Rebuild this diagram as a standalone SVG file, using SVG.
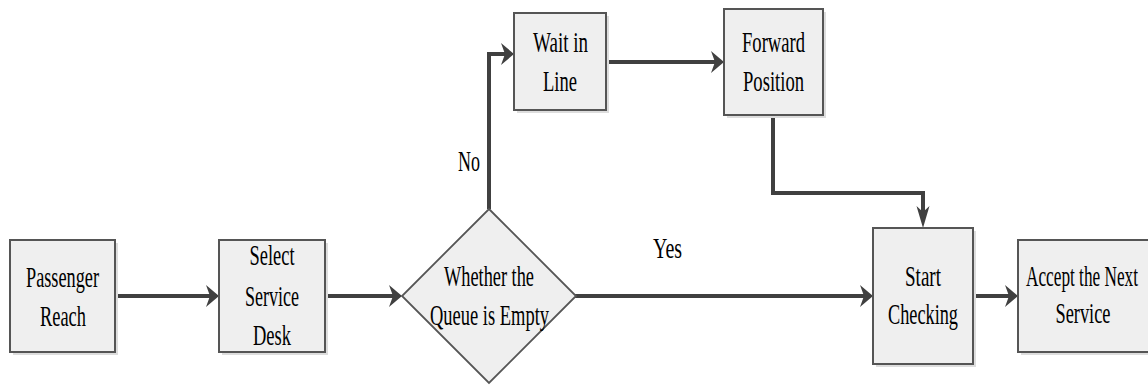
<svg xmlns="http://www.w3.org/2000/svg" width="1148" height="385" viewBox="0 0 1148 385">
  <defs>
    <style>
      .box { fill: #efefef; stroke: #555555; stroke-width: 2; }
      .shadow { fill: #dddddd; stroke: none; }
      .lbl { font-family: "Liberation Serif", "Times New Roman", "DejaVu Serif", serif; font-size: 29px; fill: #000000; text-anchor: middle; }
      .edge { fill: none; stroke: #404040; stroke-width: 4; stroke-linejoin: miter; }
    </style>
    <!-- arrowhead for horizontal runs: short and tall -->
    <marker id="ah" markerUnits="userSpaceOnUse" markerWidth="14" markerHeight="24" viewBox="0 0 14 24" refX="4" refY="12" orient="auto" overflow="visible">
      <path d="M0,1 L13,12 L0,23 L4,12 Z" fill="#404040"/>
    </marker>
    <!-- arrowhead for vertical runs: long and narrow -->
    <marker id="av" markerUnits="userSpaceOnUse" markerWidth="23" markerHeight="14" viewBox="0 0 23 14" refX="6" refY="7" orient="auto" overflow="visible">
      <path d="M0,0.5 L22,7 L0,13.5 L6,7 Z" fill="#404040"/>
    </marker>
  </defs>

  <g id="connectors">
    <path class="edge" d="M115,296 H210" marker-end="url(#ah)"/>
    <path class="edge" d="M325,296 H393" marker-end="url(#ah)"/>
    <path class="edge" d="M489,209 V54 H505" marker-end="url(#ah)"/>
    <path class="edge" d="M606,62 H715" marker-end="url(#ah)"/>
    <path class="edge" d="M773,115 V193 H923 V212" marker-end="url(#av)"/>
    <path class="edge" d="M575,296 H864" marker-end="url(#ah)"/>
    <path class="edge" d="M973,296 H1009" marker-end="url(#ah)"/>
  </g>

  <g id="passenger-reach">
    <rect class="shadow" x="13" y="243" width="105" height="112"/>
    <rect class="box" x="10" y="240" width="105" height="112"/>
    <text class="lbl" x="62.5" y="287" textLength="73" lengthAdjust="spacingAndGlyphs">Passenger</text>
    <text class="lbl" x="63" y="326" textLength="46" lengthAdjust="spacingAndGlyphs">Reach</text>
  </g>

  <g id="select-service-desk">
    <rect class="shadow" x="222" y="243" width="106" height="112"/>
    <rect class="box" x="219" y="240" width="106" height="112"/>
    <text class="lbl" x="272" y="265" textLength="45" lengthAdjust="spacingAndGlyphs">Select</text>
    <text class="lbl" x="272" y="306" textLength="54" lengthAdjust="spacingAndGlyphs">Service</text>
    <text class="lbl" x="272" y="345" textLength="38" lengthAdjust="spacingAndGlyphs">Desk</text>
  </g>

  <g id="queue-empty">
    <polygon class="box" points="489,209 576,296 489,383 402,296" style="stroke-width:1.8"/>
    <text class="lbl" x="489" y="286" textLength="90" lengthAdjust="spacingAndGlyphs">Whether the</text>
    <text class="lbl" x="489.5" y="325" textLength="119" lengthAdjust="spacingAndGlyphs">Queue is Empty</text>
  </g>

  <g id="wait-in-line">
    <rect class="shadow" x="517" y="16" width="92" height="97"/>
    <rect class="box" x="514" y="13" width="92" height="97"/>
    <text class="lbl" x="560.5" y="52" textLength="55" lengthAdjust="spacingAndGlyphs">Wait in</text>
    <text class="lbl" x="560" y="91" textLength="34" lengthAdjust="spacingAndGlyphs">Line</text>
  </g>

  <g id="forward-position">
    <rect class="shadow" x="727" y="12" width="99" height="106"/>
    <rect class="box" x="724" y="9" width="99" height="106"/>
    <text class="lbl" x="773.5" y="52" textLength="63" lengthAdjust="spacingAndGlyphs">Forward</text>
    <text class="lbl" x="773.5" y="91" textLength="61" lengthAdjust="spacingAndGlyphs">Position</text>
  </g>

  <g id="start-checking">
    <rect class="shadow" x="876" y="231" width="100" height="136"/>
    <rect class="box" x="873" y="228" width="100" height="136"/>
    <text class="lbl" x="923" y="286" textLength="36" lengthAdjust="spacingAndGlyphs">Start</text>
    <text class="lbl" x="923" y="324" textLength="70" lengthAdjust="spacingAndGlyphs">Checking</text>
  </g>

  <g id="accept-next-service">
    <rect class="shadow" x="1021" y="243" width="134" height="112"/>
    <rect class="box" x="1018" y="240" width="134" height="112"/>
    <!-- long line narrowed by a horizontal scale so it fits inside the box -->
    <text class="lbl" x="0" y="0" transform="translate(1082,286) scale(0.595,1)">Accept the Next</text>
    <text class="lbl" x="1083" y="323" textLength="55" lengthAdjust="spacingAndGlyphs">Service</text>
  </g>

  <g id="edge-labels">
    <text class="lbl" x="469" y="171" textLength="22" lengthAdjust="spacingAndGlyphs">No</text>
    <text class="lbl" x="667.5" y="258" textLength="29" lengthAdjust="spacingAndGlyphs">Yes</text>
  </g>
</svg>
